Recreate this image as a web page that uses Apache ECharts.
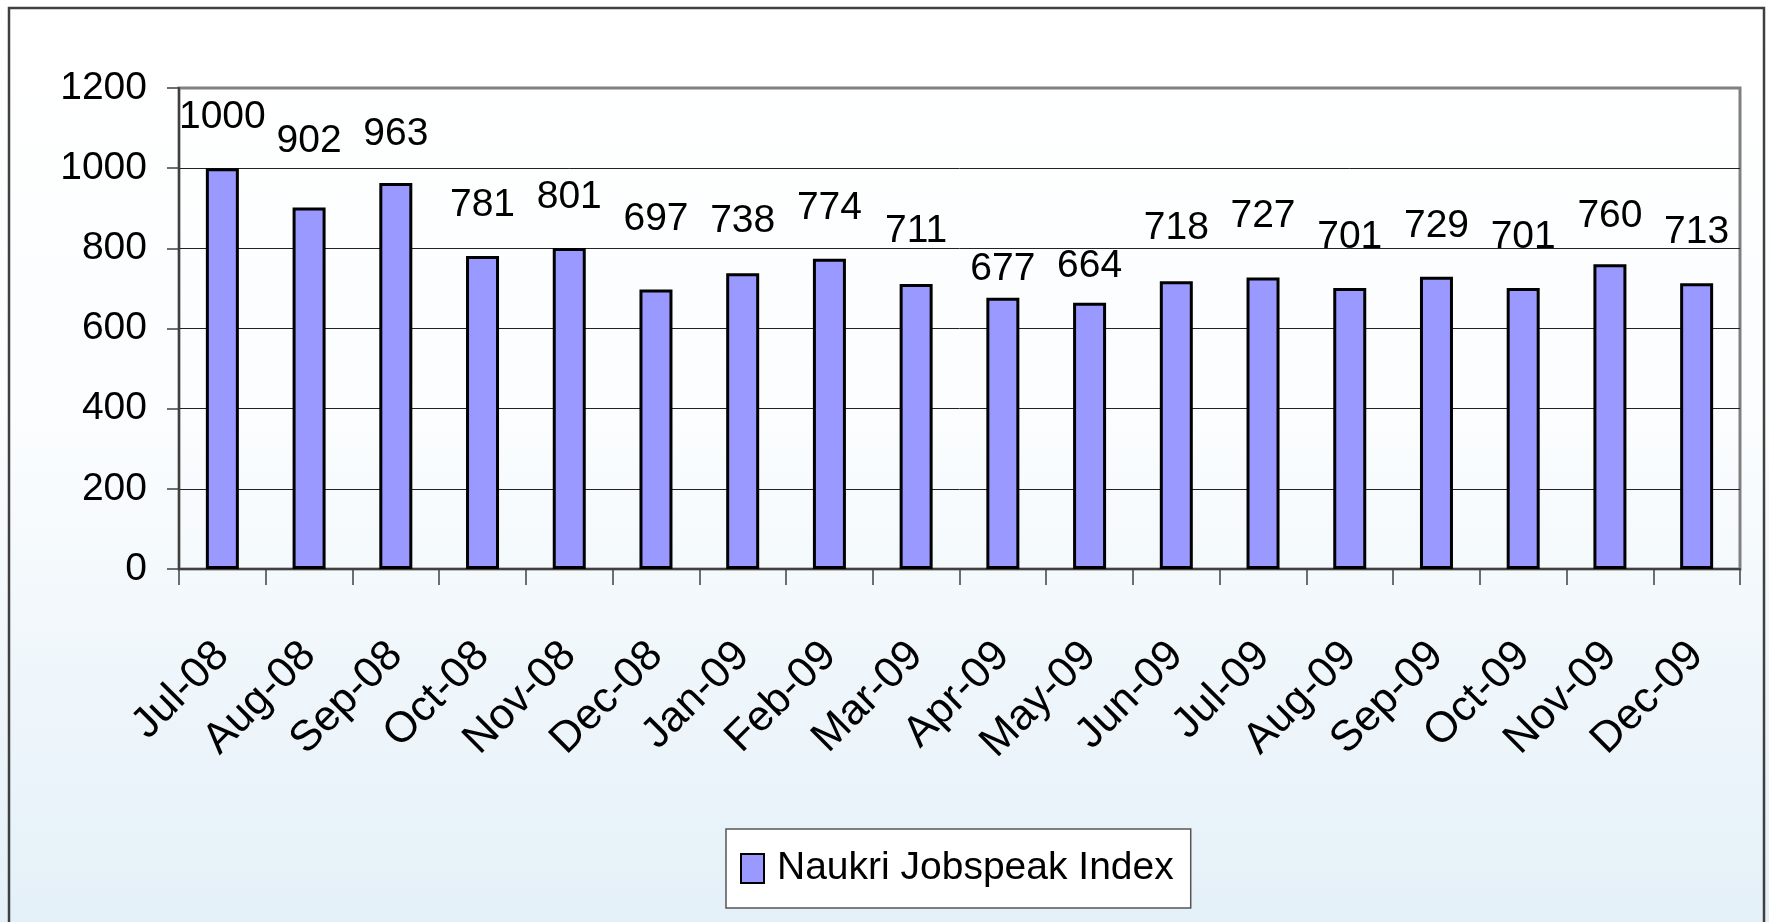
<!DOCTYPE html>
<html>
<head>
<meta charset="utf-8">
<title>Naukri Jobspeak Index</title>
<script src="https://cdn.jsdelivr.net/npm/echarts@6/dist/echarts.min.js"></script>
<style>
  html, body { margin: 0; padding: 0; }
  #chart { width: 1769px; height: 922px; }
</style>
</head>
<body>
<div id="chart"></div>
<script>
// months on the category axis
const months = [
  'Jul-08', 'Aug-08', 'Sep-08', 'Oct-08', 'Nov-08', 'Dec-08',
  'Jan-09', 'Feb-09', 'Mar-09', 'Apr-09', 'May-09', 'Jun-09',
  'Jul-09', 'Aug-09', 'Sep-09', 'Oct-09', 'Nov-09', 'Dec-09'
];
// Naukri Jobspeak Index per month
const jobspeak = [1000, 902, 963, 781, 801, 697, 738, 774, 711, 677, 664, 718, 727, 701, 729, 701, 760, 713];
// value axis ticks
const yMin = 0;
const yMax = 1200;
const yStep = 200;

// the source places some value labels by hand, so each one sits at its own height above the bar
const labelGaps = [38, 54, 36, 38, 38, 58, 39, 38, 40, 16, 24, 40, 49, 38, 38, 38, 36, 38];

const font = "'Liberation Sans', Arial, sans-serif";
const fontSize = 39;
const barColor = '#9999ff';

const chart = echarts.init(document.getElementById('chart'));

const barData = jobspeak.map((v, i) => ({
  value: v,
  label: { distance: labelGaps[i] - 7 }
}));

const options = {
  animation: false,
  backgroundColor: new echarts.graphic.LinearGradient(0, 0, 0, 1, [
    { offset: 0, color: '#ffffff' },
    { offset: 0.45, color: '#fbfdfe' },
    { offset: 1, color: '#e4f0f8' }
  ]),
  textStyle: { fontFamily: font },
  graphic: [
    {
      // outer frame of the chart object, its bottom edge runs off the picture
      type: 'rect',
      shape: { x: 9, y: 8, width: 1755, height: 1000 },
      style: { fill: 'none', stroke: '#404040', lineWidth: 2.5 },
      silent: true
    }
  ],
  grid: {
    left: 179,
    right: 29,
    top: 88,
    bottom: 353,
    show: true,
    backgroundColor: 'transparent',
    borderColor: '#808080',
    borderWidth: 3
  },
  legend: {
    left: 726,
    top: 829,
    padding: [20, 17, 20, 14],
    itemWidth: 23,
    itemHeight: 29,
    backgroundColor: '#ffffff',
    borderColor: '#555555',
    borderWidth: 1.5,
    borderRadius: 0,
    textStyle: { fontSize: 39, fontFamily: font, color: '#000', padding: [0, 0, 0, 8] },
    data: [{ name: 'Naukri Jobspeak Index', icon: 'rect' }]
  },
  xAxis: {
    type: 'category',
    data: months,
    boundaryGap: true,
    axisLine: { lineStyle: { color: '#404040', width: 2 } },
    axisTick: { show: true, length: 16, lineStyle: { color: '#404040', width: 1.5 } },
    axisLabel: {
      interval: 0,
      rotate: 45,
      margin: 80,
      fontSize: 43,
      fontFamily: font,
      color: '#000'
    },
    splitLine: { show: false }
  },
  yAxis: {
    type: 'value',
    min: yMin,
    max: yMax,
    interval: yStep,
    axisLine: { show: true, lineStyle: { color: '#404040', width: 2 } },
    axisTick: { show: true, length: 12, lineStyle: { color: '#404040', width: 1.5 } },
    axisLabel: {
      margin: 32,
      fontSize: fontSize,
      fontFamily: font,
      color: '#000',
      formatter: (v) => String(v)
    },
    splitLine: { show: true, showMaxLine: false, lineStyle: { color: '#222', width: 1 } }
  },
  series: [
    {
      name: 'Naukri Jobspeak Index',
      type: 'bar',
      data: barData,
      barWidth: 33,
      itemStyle: { color: barColor, borderColor: '#000', borderWidth: 3 },
      label: {
        show: true,
        position: 'top',
        fontSize: fontSize,
        lineHeight: fontSize,
        fontFamily: font,
        color: '#000'
      }
    }
  ]
};

chart.setOption(options);

window.addEventListener('resize', () => {
  chart.resize();
});
</script>
</body>
</html>
